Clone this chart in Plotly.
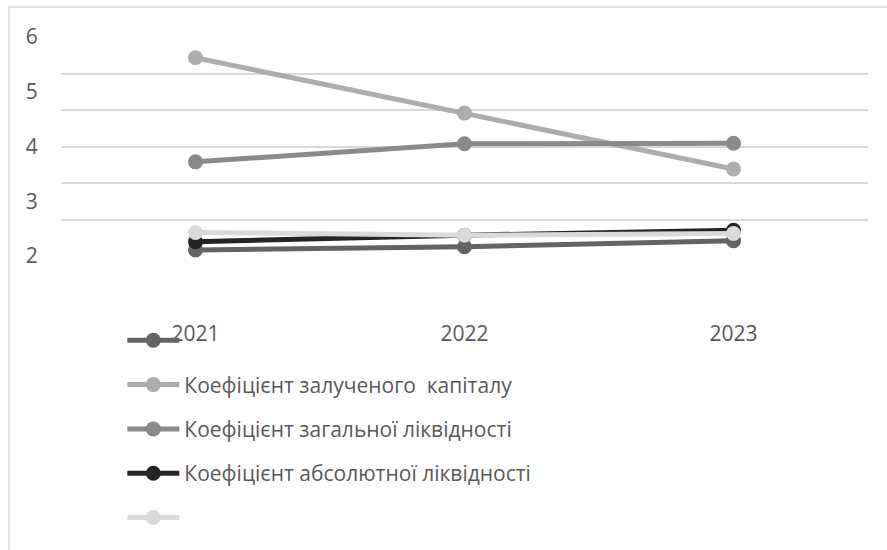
import plotly.graph_objects as go

years = ["2021", "2022", "2023"]
series_names = [
    "",
    "Коефіцієнт залученого  капіталу",
    "Коефіцієнт загальної ліквідності",
    "Коефіцієнт абсолютної ліквідності",
    "",
]
s1 = [2.11, 2.17, 2.28]
s2 = [5.62, 4.61, 3.59]
s3 = [3.72, 4.05, 4.06]
s4 = [2.26, 2.38, 2.47]
s5 = [2.43, 2.38, 2.41]
series_values = [s1, s2, s3, s4, s5]
colors = ["#646464", "#adadad", "#8a8a8a", "#242424", "#dadada"]

y_labels = ["2", "3", "4", "5", "6"]
y_label_vals = [2, 3, 4, 5, 6]

fig = go.Figure()
for i, (nm, vals, c) in enumerate(zip(series_names, series_values, colors)):
    fig.add_trace(go.Scatter(
        x=years, y=vals, name=nm if nm else " ", mode="lines+markers",
        line=dict(color=c, width=5), marker=dict(color=c, size=15),
        legendgroup=f"g{i}", cliponaxis=False,
    ))

# invisible trace to carry the tick label axis
fig.add_trace(go.Scatter(x=years, y=s1, yaxis="y2", showlegend=False,
                         mode="lines", line=dict(color="rgba(0,0,0,0)"), hoverinfo="skip"))

font_family = "Open Sans"
fs = 21
fig.update_layout(
    width=887, height=550,
    margin=dict(l=61, r=19, t=37, b=294, autoexpand=False),
    paper_bgcolor="white", plot_bgcolor="white",
    font=dict(family=font_family, size=fs, color="#595959"),
    xaxis=dict(type="category", range=[-0.5, 2.5], showgrid=False, showline=False,
               zeroline=False, ticks="outside", ticklen=59, tickcolor="rgba(0,0,0,0)",
               tickfont=dict(size=fs, color="#595959")),
    yaxis=dict(range=[2, 6], tickmode="linear", tick0=2, dtick=2/3, showgrid=True,
               gridcolor="#d9d9d9", gridwidth=1.5, showticklabels=False, zeroline=False,
               showline=False),
    yaxis2=dict(range=[2, 6], overlaying="y", side="left", tickmode="array",
                tickvals=y_label_vals, ticktext=y_labels, showgrid=False, zeroline=False,
                showline=False, ticks="outside", ticklen=18, tickcolor="rgba(0,0,0,0)",
                tickfont=dict(size=fs, color="#595959")),
    legend=dict(orientation="v", x=0.076, y=-0.293, xanchor="left", yanchor="top",
                traceorder="grouped", tracegroupgap=14, itemwidth=52,
                font=dict(size=fs, color="#595959"), bgcolor="rgba(0,0,0,0)"),
    showlegend=True,
    shapes=[dict(type="rect", xref="paper", yref="paper",
                 x0=(9 - 61) / 807, x1=1.2, y0=-3, y1=1 + 30 / 219,
                 line=dict(color="#d9d9d9", width=1.5), fillcolor="rgba(0,0,0,0)", layer="below")],
)

fig.write_html("out.html")
